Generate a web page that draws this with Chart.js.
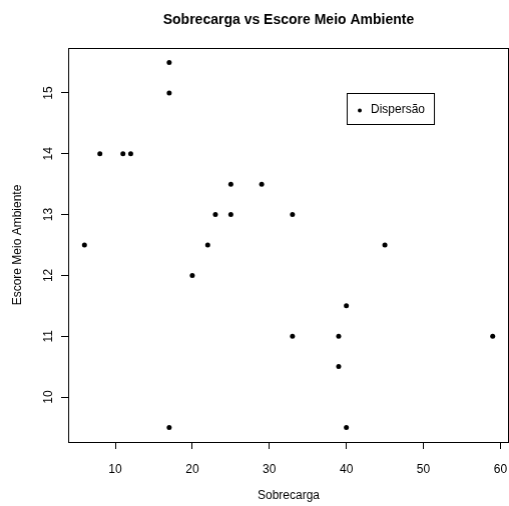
<!DOCTYPE html>
<html>
<head>
<meta charset="utf-8">
<script src="https://cdn.jsdelivr.net/npm/chart.js@4/dist/chart.umd.min.js"></script>
<style>
  html, body { margin: 0; padding: 0; background: #fff; overflow: hidden; }
  #wrap { width: 509px; height: 506px; }
</style>
</head>
<body>
<div id="wrap"><canvas id="grafico"></canvas></div>
<script>
// dados do gráfico
const sobrecarga = [6, 8, 11, 12, 17, 17, 17, 20, 22, 23, 25, 25, 29, 33, 33, 39, 39, 40, 40, 45, 59];
const escoreMeioAmbiente = [12.5, 14, 14, 14, 15.5, 15, 9.5, 12, 12.5, 13, 13.5, 13, 13.5, 13, 11, 11, 10.5, 11.5, 9.5, 12.5, 11];
const ticksX = [10, 20, 30, 40, 50, 60];
const ticksY = [10, 11, 12, 13, 14, 15];
const titulo = 'Sobrecarga vs Escore Meio Ambiente';
const tituloX = 'Sobrecarga';
const tituloY = 'Escore Meio Ambiente';
const legendaTexto = 'Dispersão';
const legendaPos = [40, 15]; // canto superior esquerdo da legenda, em coordenadas dos dados

const fonte = '"Liberation Sans", Arial, sans-serif';

// limites como no R (faixa dos dados +- 4%)
function limites(v) {
    const min = Math.min(...v), max = Math.max(...v);
    const d = (max - min) * 0.04;
    return [min - d, max + d];
}
const [xMin, xMax] = limites(sobrecarga);
const [yMin, yMax] = limites(escoreMeioAmbiente);

const pontos = sobrecarga.map((x, i) => ({ x: x, y: escoreMeioAmbiente[i] }));

// caixa, título e legenda no estilo do R
const estiloR = {
    id: 'estiloR',
    afterDraw(chart) {
        const ctx = chart.ctx;
        const a = chart.chartArea;
        ctx.save();
        ctx.strokeStyle = '#000';
        ctx.lineWidth = 1;
        ctx.strokeRect(Math.round(a.left) + 0.5, Math.round(a.top) + 0.5,
            Math.round(a.right - a.left) - 1, Math.round(a.bottom - a.top));

        // título
        ctx.fillStyle = '#000';
        ctx.font = 'bold 14px ' + fonte;
        ctx.textAlign = 'center';
        ctx.textBaseline = 'middle';
        ctx.fillText(titulo, (a.left + a.right) / 2, 20);

        // legenda
        const lx = Math.round(chart.scales.x.getPixelForValue(legendaPos[0])) + 0.5;
        const ly = Math.round(chart.scales.y.getPixelForValue(legendaPos[1])) + 0.5;
        ctx.font = '12px ' + fonte;
        const w = ctx.measureText(legendaTexto).width + 33;
        ctx.strokeRect(lx, ly, w, 31);
        ctx.beginPath();
        ctx.arc(lx + 12.5, ly + 17, 2, 0, Math.PI * 2);
        ctx.fill();
        ctx.textAlign = 'left';
        ctx.fillText(legendaTexto, lx + 23.5, ly + 16.5);
        ctx.restore();
    }
};

const ctx = document.getElementById('grafico').getContext('2d');
const grafico = new Chart(ctx, {
    type: 'scatter',
    data: {
        datasets: [{
            label: legendaTexto,
            data: pontos,
            backgroundColor: '#000',
            borderWidth: 0,
            pointRadius: 2.5,
            pointHoverRadius: 2.5
        }]
    },
    options: {
        responsive: true,
        maintainAspectRatio: false,
        animation: false,
        devicePixelRatio: 1,
        layout: { padding: { top: 48, right: 1, left: 0, bottom: 0 } },
        plugins: {
            legend: { display: false },
            tooltip: { enabled: false },
            title: { display: false }
        },
        scales: {
            x: {
                type: 'linear',
                min: xMin,
                max: xMax,
                afterBuildTicks: s => { s.ticks = ticksX.map(v => ({ value: v })); },
                afterFit: s => { s.height = 64; },
                // traço de 7px; o resto do tickLength só afasta os rótulos
                grid: { drawOnChartArea: false, drawTicks: true, tickLength: 18, tickBorderDash: [7, 60], tickColor: '#000', tickWidth: 1 },
                border: { display: false },
                ticks: { color: '#000', font: { family: fonte, size: 12 }, padding: 2, maxRotation: 0 },
                title: { display: true, text: tituloX, color: '#000', font: { family: fonte, size: 12 }, padding: { top: 0, bottom: 3 } }
            },
            y: {
                type: 'linear',
                min: yMin,
                max: yMax,
                afterBuildTicks: s => { s.ticks = ticksY.map(v => ({ value: v })); },
                afterFit: s => { s.width = 68; s.paddingTop = 0; s.paddingBottom = 0; },
                grid: { drawOnChartArea: false, drawTicks: true, tickLength: 7, tickColor: '#000', tickWidth: 1 },
                border: { display: false },
                ticks: { color: '#000', font: { family: fonte, size: 12 }, padding: 6, minRotation: 90, maxRotation: 90, crossAlign: 'center' },
                title: { display: true, text: tituloY, color: '#000', font: { family: fonte, size: 12 }, padding: { top: 10, bottom: 0 } }
            }
        }
    },
    plugins: [estiloR]
});

// Chart.js deixa uns px sobrando à direita; alarga o contêiner até a área do gráfico terminar em 508
const wrap = document.getElementById('wrap');
let largura = 509;
for (let i = 0; i < 5; i++) {
    const falta = 508 - grafico.chartArea.right;
    if (Math.abs(falta) < 0.5) break;
    largura = Math.min(515, Math.max(509, largura + falta));
    wrap.style.width = largura + 'px';
    grafico.resize();
}
</script>
</body>
</html>
